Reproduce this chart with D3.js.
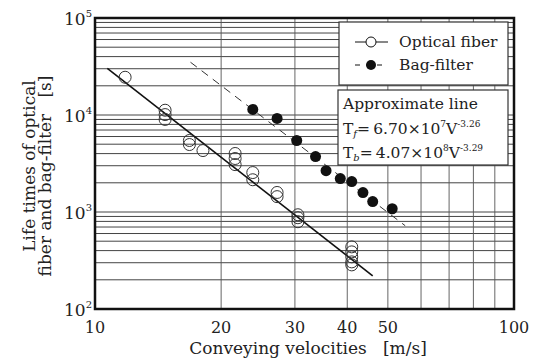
<!DOCTYPE html>
<html>
<head>
<meta charset="utf-8">
<script src="https://cdn.jsdelivr.net/npm/d3@7"></script>
<style>
  body { margin: 0; background: #fff; }
  text { font-family: "DejaVu Serif", "Liberation Serif", serif; fill: #222; }
</style>
</head>
<body>
<div id="chart"></div>
<script>
// values
var fiberV = [11.8, 14.7, 14.7, 14.7, 16.8, 16.8, 18.1, 21.6, 21.6, 21.6, 23.8, 23.8, 27.2, 27.2, 30.5, 30.5, 30.5, 41, 41, 41, 41, 41];
var fiberT = [24500, 11200, 10100, 9000, 5460, 4960, 4300, 4010, 3560, 3080, 2550, 2150, 1590, 1440, 937, 873, 794, 437, 388, 345, 306, 285];
var bagV = [23.8, 27.2, 30.3, 33.6, 35.6, 38.5, 41, 43.6, 46, 51.2];
var bagT = [11400, 9230, 5460, 3730, 2670, 2210, 2060, 1585, 1280, 1080];
// approximate lines (end points as drawn)
var fiberFitV = [10.7, 46];
var fiberFitT = [30300, 220];
var bagFitV = [16.9, 55];
var bagFitT = [35000, 722];
var xTicks = [10, 20, 30, 40, 50, 100];
var xGrid = [20, 30, 40, 50, 60, 70, 80, 90];
var yTicks = [2, 3, 4, 5];

var width = 544, height = 360;
var margin = { top: 18, right: 30, bottom: 51, left: 95 };
var w = width - margin.left - margin.right;
var h = height - margin.top - margin.bottom;

var svg = d3.select("#chart").append("svg")
  .attr("width", width)
  .attr("height", height);

var g = svg.append("g")
  .attr("transform", "translate(" + margin.left + "," + margin.top + ")");

var x = d3.scaleLog().domain([10, 100]).range([0, w]);
var y = d3.scaleLog().domain([100, 100000]).range([h, 0]);

// horizontal grid: 2..9 x each decade
var yGrid = [];
[100, 1000, 10000].forEach(function(d) {
  for (var k = 1; k < 10; k++) yGrid.push(d * k);
});
g.selectAll(".hgrid")
  .data(yGrid)
  .enter().append("line")
  .attr("x1", 0).attr("x2", w)
  .attr("y1", function(d) { return y(d); })
  .attr("y2", function(d) { return y(d); })
  .attr("stroke", "#444")
  .attr("stroke-width", 1);

g.selectAll(".vgrid")
  .data(xGrid)
  .enter().append("line")
  .attr("y1", 0).attr("y2", h)
  .attr("x1", function(d) { return x(d); })
  .attr("x2", function(d) { return x(d); })
  .attr("stroke", "#555")
  .attr("stroke-width", 0.9);

// approximate lines
g.append("line")
  .attr("x1", x(fiberFitV[0])).attr("y1", y(fiberFitT[0]))
  .attr("x2", x(fiberFitV[1])).attr("y2", y(fiberFitT[1]))
  .attr("stroke", "#111").attr("stroke-width", 1.6);

g.append("line")
  .attr("x1", x(bagFitV[0])).attr("y1", y(bagFitT[0]))
  .attr("x2", x(bagFitV[1])).attr("y2", y(bagFitT[1]))
  .attr("stroke", "#333").attr("stroke-width", 1)
  .attr("stroke-dasharray", "8,6");

// points
var fiber = fiberV.map(function(v, i) { return { v: v, t: fiberT[i] }; });
var bag = bagV.map(function(v, i) { return { v: v, t: bagT[i] }; });

g.selectAll(".fiber")
  .data(fiber)
  .enter().append("circle")
  .attr("cx", function(d) { return x(d.v); })
  .attr("cy", function(d) { return y(d.t); })
  .attr("r", 6)
  .attr("fill", "none")
  .attr("stroke", "#333")
  .attr("stroke-width", 1);

g.selectAll(".bag")
  .data(bag)
  .enter().append("circle")
  .attr("cx", function(d) { return x(d.v); })
  .attr("cy", function(d) { return y(d.t); })
  .attr("r", 5.5)
  .attr("fill", "#111");

// frame
g.append("rect")
  .attr("width", w).attr("height", h)
  .attr("fill", "none")
  .attr("stroke", "#111")
  .attr("stroke-width", 2.5);

// x tick labels
g.selectAll(".xlab")
  .data(xTicks)
  .enter().append("text")
  .attr("x", function(d) { return x(d); })
  .attr("y", h + 24)
  .attr("text-anchor", "middle")
  .style("font-size", "16px")
  .text(function(d) { return d; });

// y tick labels 10^n
var yl = g.selectAll(".ylab")
  .data(yTicks)
  .enter().append("text")
  .attr("x", -3)
  .attr("y", function(d) { return y(Math.pow(10, d)) + 7; })
  .attr("text-anchor", "end")
  .style("font-size", "17px");
yl.append("tspan").text("10");
yl.append("tspan").attr("dy", -8).style("font-size", "10px").text(function(d) { return d; });

// axis titles
svg.append("text")
  .attr("x", 308)
  .attr("y", 354)
  .attr("text-anchor", "middle")
  .style("font-size", "17px")
  .style("white-space", "pre")
  .text("Conveying velocities   [m/s]");

svg.append("text")
  .attr("transform", "translate(35,166) rotate(-90)")
  .attr("text-anchor", "middle")
  .style("font-size", "17px")
  .text("Life times of optical");

svg.append("text")
  .attr("transform", "translate(51,176) rotate(-90)")
  .attr("text-anchor", "middle")
  .style("font-size", "17px")
  .style("white-space", "pre")
  .text("fiber and bag-filter   [s]");

// legend
var lg = svg.append("g");
lg.append("rect")
  .attr("x", 339).attr("y", 22).attr("width", 169).attr("height", 63)
  .attr("fill", "#fff").attr("stroke", "#333").attr("stroke-width", 1.2);
lg.append("line")
  .attr("x1", 355).attr("x2", 388).attr("y1", 42).attr("y2", 42)
  .attr("stroke", "#111").attr("stroke-width", 1.2);
lg.append("circle")
  .attr("cx", 371).attr("cy", 42).attr("r", 5)
  .attr("fill", "#fff").attr("stroke", "#111");
lg.append("text").attr("x", 399).attr("y", 47)
  .style("font-size", "15.5px").text("Optical fiber");
lg.append("line")
  .attr("x1", 355).attr("x2", 388).attr("y1", 65).attr("y2", 65)
  .attr("stroke", "#111").attr("stroke-width", 1)
  .attr("stroke-dasharray", "5,6");
lg.append("circle")
  .attr("cx", 371).attr("cy", 65).attr("r", 5)
  .attr("fill", "#111");
lg.append("text").attr("x", 399).attr("y", 70)
  .style("font-size", "15.5px").text("Bag-filter");

// approximate line box
var ab = svg.append("g");
ab.append("rect")
  .attr("x", 338).attr("y", 90).attr("width", 170).attr("height", 75)
  .attr("fill", "#fff").attr("stroke", "#333").attr("stroke-width", 1.2);
ab.append("text").attr("x", 343).attr("y", 109)
  .style("font-size", "15.5px").text("Approximate line");

function eq(yPos, sub, coef, exp10, expV) {
  var t = ab.append("text").attr("x", 343).attr("y", yPos).style("font-size", "15.5px");
  t.append("tspan").text("T");
  t.append("tspan").attr("dy", 3).style("font-size", "10px").style("font-style", "italic").text(sub);
  t.append("tspan").attr("dy", -3).text("=\u2009" + coef + "\u00d710");
  t.append("tspan").attr("dy", -7).style("font-size", "9px").text(exp10);
  t.append("tspan").attr("dy", 7).text("V");
  t.append("tspan").attr("dy", -7).style("font-size", "9px").text(expV);
}
eq(134, "f", "6.70", "7", "-3.26");
eq(158, "b", "4.07", "8", "-3.29");
</script>
</body>
</html>
